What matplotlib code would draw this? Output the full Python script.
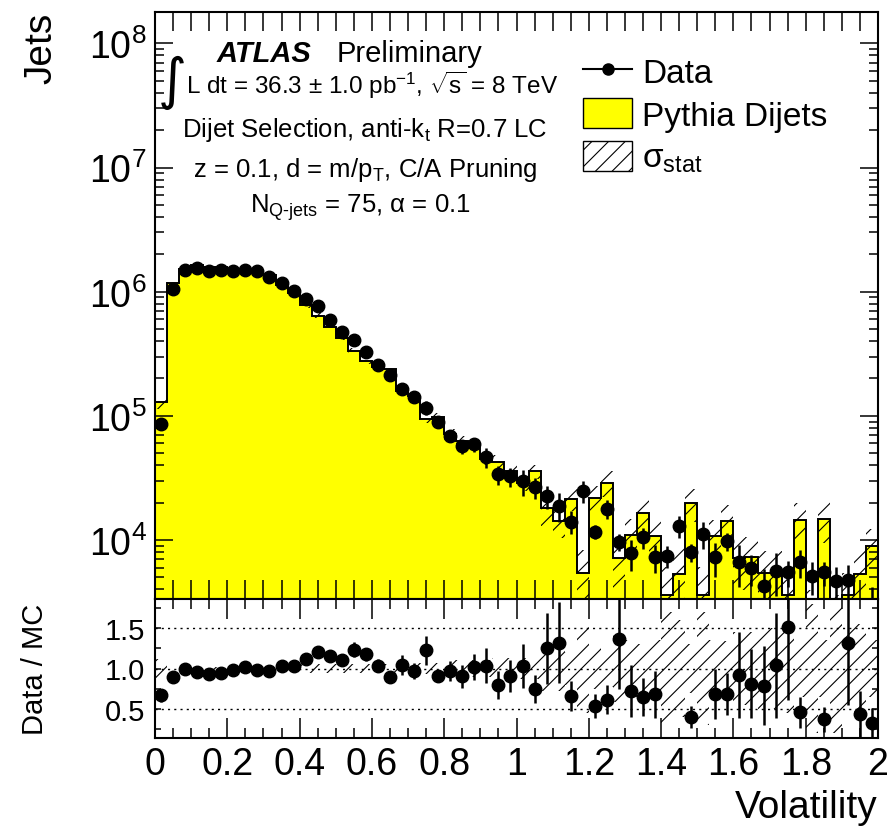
import numpy as np
import matplotlib
matplotlib.use("Agg")
import matplotlib.pyplot as plt
from matplotlib.patches import Patch
from matplotlib.lines import Line2D
from matplotlib.ticker import MultipleLocator, LogLocator, NullFormatter, FuncFormatter, FixedLocator

plt.rcParams["font.family"] = ["Liberation Sans", "DejaVu Sans"]
plt.rcParams["mathtext.fontset"] = "custom"
plt.rcParams["mathtext.rm"] = "Liberation Sans"
plt.rcParams["mathtext.it"] = "Liberation Sans:italic"
plt.rcParams["mathtext.bf"] = "Liberation Sans:bold"
plt.rcParams["mathtext.sf"] = "Liberation Sans"
plt.rcParams["hatch.linewidth"] = 0.8

# 60 bins of volatility between 0 and 2
bin_edges = np.linspace(0.0, 2.0, 61)

data_counts = [
    8.59e4, 1.05e6, 1.50e6, 1.55e6, 1.46e6, 1.49e6, 1.46e6, 1.49e6, 1.46e6, 1.32e6,
    1.18e6, 1.02e6, 8.71e5, 7.69e5, 5.94e5, 4.70e5, 4.10e5, 3.28e5, 2.56e5, 2.13e5,
    1.64e5, 1.41e5, 1.16e5, 8.87e4, 6.92e4, 5.68e4, 5.90e4, 4.63e4, 3.38e4, 3.26e4,
    2.97e4, 2.66e4, 2.25e4, 1.89e4, 1.41e4, 2.47e4, 1.17e4, 1.78e4, 9.69e3, 7.85e3,
    1.05e4, 7.26e3, 7.40e3, 1.30e4, 7.96e3, 1.12e4, 7.26e3, 9.77e3, 6.61e3, 5.92e3,
    4.24e3, 5.66e3, 5.50e3, 6.61e3, 5.11e3, 5.50e3, 4.70e3, 4.79e3, 2.30e3, 2.84e3,
]
data_rel_err = [
    0.005, 0.005, 0.005, 0.005, 0.005, 0.005, 0.005, 0.005, 0.005, 0.005,
    0.005, 0.005, 0.005, 0.005, 0.005, 0.03, 0.04, 0.04, 0.05, 0.06,
    0.097, 0.071, 0.127, 0.04, 0.08, 0.125, 0.125, 0.185, 0.177, 0.177,
    0.237, 0.19, 0.21, 0.26, 0.21, 0.20, 0.126, 0.177, 0.16, 0.28,
    0.20, 0.25, 0.20, 0.20, 0.16, 0.25, 0.30, 0.17, 0.37, 0.28,
    0.38, 0.38, 0.24, 0.25, 0.30, 0.22, 0.30, 0.31, 0.38, 0.48,
]
mc_counts = [
    1.29e5, 1.18e6, 1.51e6, 1.63e6, 1.57e6, 1.58e6, 1.49e6, 1.46e6, 1.49e6, 1.36e6,
    1.14e6, 9.84e5, 7.75e5, 6.41e5, 5.15e5, 4.26e5, 3.32e5, 2.79e5, 2.48e5, 2.39e5,
    1.58e5, 1.45e5, 9.45e4, 9.81e4, 7.10e4, 6.28e4, 5.78e4, 4.48e4, 4.27e4, 3.61e4,
    2.88e4, 3.58e4, 1.80e4, 1.43e4, 2.14e4, 5.40e3, 2.19e4, 2.90e4, 7.12e3, 1.09e4,
    1.64e4, 1.07e4, 3.60e3, 5.37e3, 2.00e4, 3.60e3, 1.07e4, 1.43e4, 7.21e3, 7.28e3,
    5.41e3, 5.44e3, 3.63e3, 1.46e4, 2.20e3, 1.49e4, 2.00e3, 3.63e3, 5.32e3, 9.00e3,
]
mc_rel_err = [
    0.12, 0.02, 0.02, 0.02, 0.02, 0.02, 0.02, 0.02, 0.02, 0.03,
    0.03, 0.03, 0.05, 0.05, 0.05, 0.05, 0.06, 0.06, 0.06, 0.06,
    0.07, 0.07, 0.07, 0.07, 0.10, 0.10, 0.10, 0.10, 0.13, 0.13,
    0.13, 0.13, 0.28, 0.28, 0.20, 0.55, 0.25, 0.23, 0.42, 0.35,
    0.31, 0.35, 0.70, 0.60, 0.30, 0.70, 0.35, 0.34, 0.45, 0.45,
    0.50, 0.50, 0.55, 0.36, 0.80, 0.36, 0.80, 0.50, 0.55, 0.36,
]

x_ticks = [0, 0.2, 0.4, 0.6, 0.8, 1.0, 1.2, 1.4, 1.6, 1.8, 2.0]
ratio_ticks = [0.5, 1.0, 1.5]

edges = np.asarray(bin_edges)
centers = 0.5 * (edges[:-1] + edges[1:])
widths = np.diff(edges)
data = np.asarray(data_counts)
d_err = np.asarray(data_rel_err)
mc = np.asarray(mc_counts)
mc_err = np.asarray(mc_rel_err)

YELLOW = "#ffff00"
W, H = 894, 829


def fx(px):
    return px / W


def fy(py):
    return 1 - py / H


fig = plt.figure(figsize=(W / 100, H / 100), dpi=100)
ax = fig.add_axes([fx(155), fy(600), (878 - 155) / W, (600 - 12.7) / H])
rax = fig.add_axes([fx(155), fy(739), (878 - 155) / W, (739 - 600) / H])

# ---- main panel ----
ax.stairs(mc, edges, fill=True, facecolor=YELLOW, edgecolor="none", baseline=1.0, zorder=1)
ax.stairs(mc, edges, color="black", lw=1.4, baseline=None, zorder=2)
ax.bar(centers, 2 * mc * mc_err, bottom=mc * (1 - mc_err), width=widths,
       fill=False, hatch="//", edgecolor="black", linewidth=0, zorder=3)
ax.errorbar(centers, data, yerr=data * d_err, fmt="o", color="black",
            ms=9, elinewidth=1.8, capsize=0, zorder=4)

ax.set_yscale("log")
ax.set_xlim(0, 2)
ax.set_ylim(3.35e3, 1.8e8)
ax.xaxis.set_major_locator(FixedLocator(x_ticks))
ax.xaxis.set_minor_locator(MultipleLocator(0.05))
ax.yaxis.set_major_locator(LogLocator(base=10, numticks=20))
ax.yaxis.set_minor_locator(LogLocator(base=10, subs=np.arange(2, 10), numticks=100))
ax.yaxis.set_minor_formatter(NullFormatter())
ax.tick_params(axis="both", which="both", direction="in", top=True, right=True,
               labelbottom=False, width=1.1, colors="black")
ax.tick_params(axis="x", which="both", length=14)
ax.tick_params(axis="y", which="major", length=13, labelsize=27, pad=6)
ax.tick_params(axis="y", which="minor", length=6.5)
for s in ax.spines.values():
    s.set_linewidth(1.5)

# ---- ratio panel ----
ratio = data / mc
ratio_err = ratio * np.sqrt(d_err ** 2 + mc_err ** 2)
r_lo, r_hi = 0.135, 1.865
rax.bar(centers, 2 * mc_err, bottom=1 - mc_err, width=widths,
        fill=False, hatch="//", edgecolor="black", linewidth=0, zorder=1)
for v in ratio_ticks:
    rax.axhline(v, color="black", lw=1.0, ls=(0, (1.5, 3)), zorder=2)
shown = (ratio > r_lo) & (ratio < r_hi)
rax.errorbar(centers[shown], ratio[shown], yerr=ratio_err[shown], fmt="o",
             color="black", ms=9, elinewidth=1.8, capsize=0, zorder=4)
rax.set_xlim(0, 2)
rax.set_ylim(r_lo, r_hi)
rax.xaxis.set_major_locator(FixedLocator(x_ticks))
rax.xaxis.set_minor_locator(MultipleLocator(0.05))
rax.xaxis.set_major_formatter(FuncFormatter(lambda v, p: f"{v:g}"))
rax.yaxis.set_major_locator(FixedLocator(ratio_ticks))
rax.yaxis.set_minor_locator(MultipleLocator(0.25))
rax.yaxis.set_major_formatter(FuncFormatter(lambda v, p: f"{v:.1f}"))
rax.tick_params(axis="both", which="both", direction="in", top=True, right=True,
                width=1.1, colors="black")
rax.tick_params(axis="x", which="major", length=14.5, labelsize=27, pad=6)
rax.tick_params(axis="x", which="minor", length=7)
rax.tick_params(axis="y", which="both", length=4, labelsize=21, pad=7)
for s in rax.spines.values():
    s.set_linewidth(1.5)

# ---- labels ----
fig.text(fx(41), fy(13), "Jets", rotation=90, ha="center", va="top", fontsize=28)
fig.text(fx(35), fy(669), "Data / MC", rotation=90, ha="center", va="center", fontsize=21)
fig.text(fx(878), fy(818), "Volatility", ha="right", va="baseline", fontsize=28)

# ---- annotation block ----
fig.text(fx(217), fy(62), "ATLAS", fontsize=21, fontweight="bold", fontstyle="italic",
         ha="left", va="baseline")
fig.text(fx(337), fy(62), "Preliminary", fontsize=21, ha="left", va="baseline")
fig.text(fx(172), fy(83), "\u222b", fontsize=40, ha="center", va="center",
         family=["DejaVu Sans"])
fig.text(fx(372), fy(94), r"L dt = 36.3 $\pm$ 1.0 pb$^{-1}$, $\sqrt{\mathrm{s}}$ = 8 TeV",
         fontsize=17.5, ha="center", va="baseline")
fig.text(fx(365), fy(137), r"Dijet Selection, anti-k$_{\mathrm{t}}$ R=0.7 LC",
         fontsize=18.5, ha="center", va="baseline")
fig.text(fx(365), fy(177), r"z = 0.1, d = m/p$_{\mathrm{T}}$, C/A Pruning",
         fontsize=18.5, ha="center", va="baseline")
fig.text(fx(360), fy(213), "N$_{\\mathrm{Q\\text{-}jets}}$ = 75, \u03b1 = 0.1",
         fontsize=18.5, ha="center", va="baseline")

# ---- legend ----
handles = [
    Line2D([], [], color="black", marker="o", ms=8, lw=1.5),
    Patch(facecolor=YELLOW, edgecolor="black", lw=1.0),
    Patch(facecolor="white", edgecolor="black", hatch="//", lw=1.0),
]
labels = ["Data", "Pythia Dijets", "\u03c3$_{\\mathrm{stat}}$"]
ax.legend(handles, labels, loc="upper left", bbox_to_anchor=(fx(583), fy(57)),
          bbox_transform=fig.transFigure, frameon=False, fontsize=24,
          handlelength=1.47, handleheight=1.0, handletextpad=0.3,
          labelspacing=0.27, borderpad=0, borderaxespad=0)

fig.savefig("out.png", dpi=100)
